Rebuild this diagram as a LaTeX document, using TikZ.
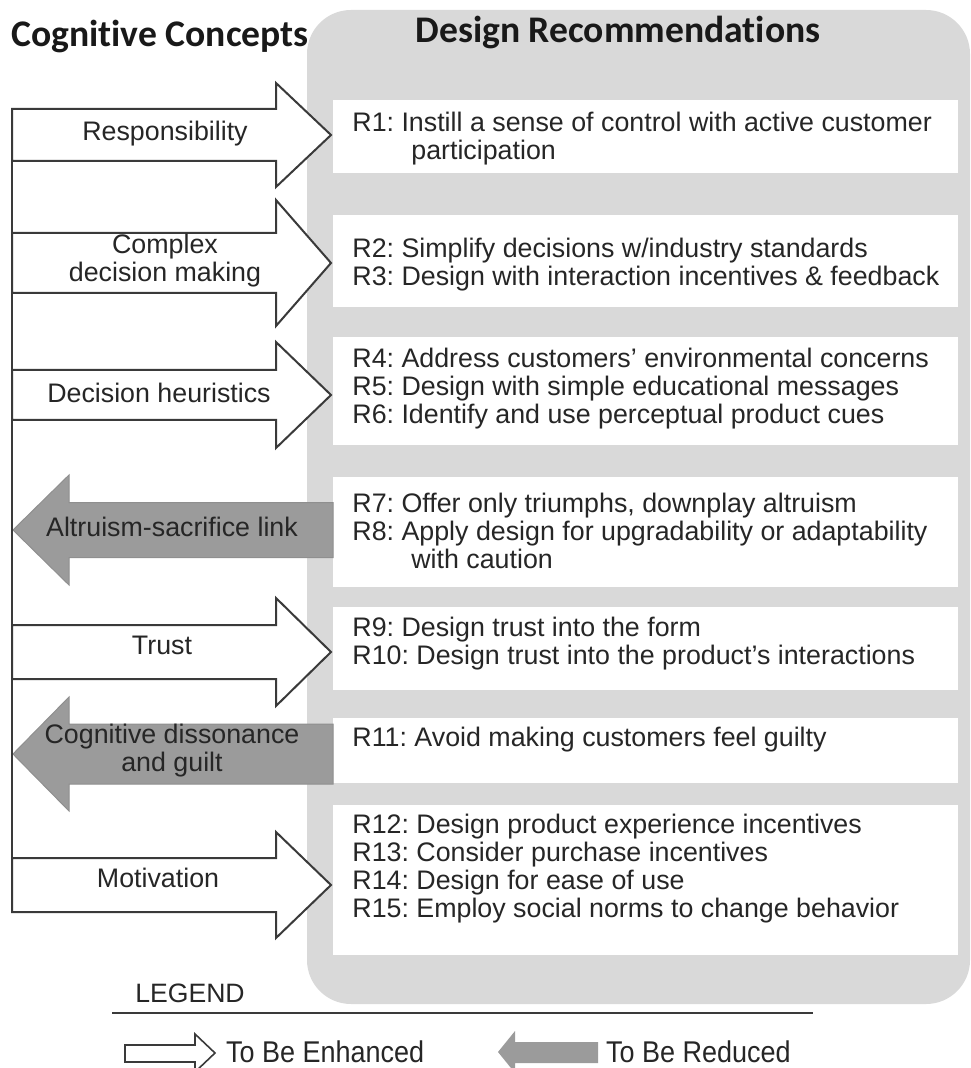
\documentclass[tikz,border=0pt]{standalone}
\usepackage{fontspec}
\setmainfont{Liberation Sans}
\newfontfamily\titlefont[Ligatures={NoCommon}]{Carlito}
\usepackage{graphicx}
\usetikzlibrary{fit}

\definecolor{panelgrey}{HTML}{D9D9D9}
\definecolor{arrowgrey}{HTML}{9B9B9B}
\definecolor{inkgrey}{HTML}{3A3A3A}
\frenchspacing

\begin{document}
\begin{tikzpicture}[x=0.5pt, y=-0.5pt,
    every node/.style={font=\fontsize{13.4}{14}\selectfont, text=black!85},
    enharrow/.style={draw=inkgrey, line width=1pt, fill=white},
    redarrow/.style={draw=arrowgrey!92!black, line width=0.5pt, fill=arrowgrey},
    recbox/.style={fill=white, inner sep=0pt},
    rectext/.style={anchor=west, align=left, inner sep=0pt},
    concept/.style={align=center, inner sep=0pt},
    heading/.style={font=\titlefont\bfseries\fontsize{18.8}{20}\selectfont, text=black!90, anchor=base}]
    \useasboundingbox (0,0) rectangle (970,1068);

    % grey panel behind the recommendations
    \fill[panelgrey, rounded corners=22pt] (307,10) rectangle (970,1004);

    \node[heading] (cc) at (160,47) {Cognitive Concepts};
    \node[heading] (dr) at (618,43) {Design Recommendations};

    % recommendation boxes
    \node[recbox, fit={(333,100) (958,173)}] (b1) {};
    \node[recbox, fit={(333,215) (958,307)}] (b2) {};
    \node[recbox, fit={(333,337) (958,445)}] (b3) {};
    \node[recbox, fit={(333,477) (958,587)}] (b4) {};
    \node[recbox, fit={(333,607) (958,690)}] (b5) {};
    \node[recbox, fit={(333,718) (958,783)}] (b6) {};
    \node[recbox, fit={(333,805) (958,955)}] (b7) {};

    \node[rectext] (t1) at (352,139) {R1: Instill a sense of control with active customer\\\hspace*{2.2em}participation};
    \node[rectext] (t2) at (352,265) {R2: Simplify decisions w/industry standards\\R3: Design with interaction incentives \& feedback};
    \node[rectext] (t3) at (352,389) {R4: Address customers’ environmental concerns\\R5: Design with simple educational messages\\R6: Identify and use perceptual product cues};
    \node[rectext] (t4) at (352,531) {R7: Offer only triumphs, downplay altruism\\R8: Apply design for upgradability or adaptability\\\hspace*{2.2em}with caution};
    \node[rectext] (t5) at (352,644) {R9: Design trust into the form\\R10: Design trust into the product’s interactions};
    \node[rectext] (t6) at (352,740) {R11: Avoid making customers feel guilty};
    \node[rectext] (t7) at (352,869) {R12: Design product experience incentives\\R13: Consider purchase incentives\\R14: Design for ease of use\\R15: Employ social norms to change behavior};

    % block arrows: enhanced (right) and reduced (left)
    \foreach \yc/\sh/\hh in {135/26/52, 263/30/63, 395/25/53, 652/27/54, 885/27/53}
      \draw[enharrow] (12,\yc-\sh) -- (276,\yc-\sh) -- (276,\yc-\hh) -- (331,\yc) -- (276,\yc+\hh) -- (276,\yc+\sh) -- (12,\yc+\sh) -- cycle;
    \foreach \yc/\sh/\hh in {530/27.5/55, 754/30/57}
      \draw[redarrow] (333,\yc-\sh) -- (69,\yc-\sh) -- (69,\yc-\hh) -- (13,\yc) -- (69,\yc+\hh) -- (69,\yc+\sh) -- (333,\yc+\sh) -- cycle;
    \draw[inkgrey, line width=1pt] (12,109) -- (12,912);

    \node[concept] (resp) at (165,134) {Responsibility};
    \node[concept] (cdm) at (165,261) {Complex\\decision making};
    \node[concept] (heur) at (159,393) {Decision heuristics};
    \node[concept] (altr) at (172,527) {Altruism-sacrifice link};
    \node[concept] (trust) at (162,645) {Trust};
    \node[concept] (diss) at (172,751) {Cognitive dissonance\\and guilt};
    \node[concept] (motiv) at (158,878) {Motivation};

    % legend
    \node[font=\fontsize{13.3}{15}\selectfont] (leg) at (190,993) {LEGEND};
    \draw[inkgrey, line width=1pt] (112,1013) -- (813,1013);
    \draw[enharrow, line width=0.8pt] (125,1045) -- (195,1045) -- (195,1034) -- (215,1053) -- (195,1072) -- (195,1062) -- (125,1062) -- cycle;
    \fill[arrowgrey] (598,1042) -- (515,1042) -- (515,1031) -- (498,1052) -- (515,1073) -- (515,1063) -- (598,1063) -- cycle;
    \node[anchor=west, font=\fontsize{15}{17}\selectfont] (enhtxt) at (219,1052) {\scalebox{0.9}[1]{To Be Enhanced}};
    \node[anchor=west, font=\fontsize{15}{17}\selectfont] (redtxt) at (599,1052) {\scalebox{0.9}[1]{To Be Reduced}};
\end{tikzpicture}
\end{document}
